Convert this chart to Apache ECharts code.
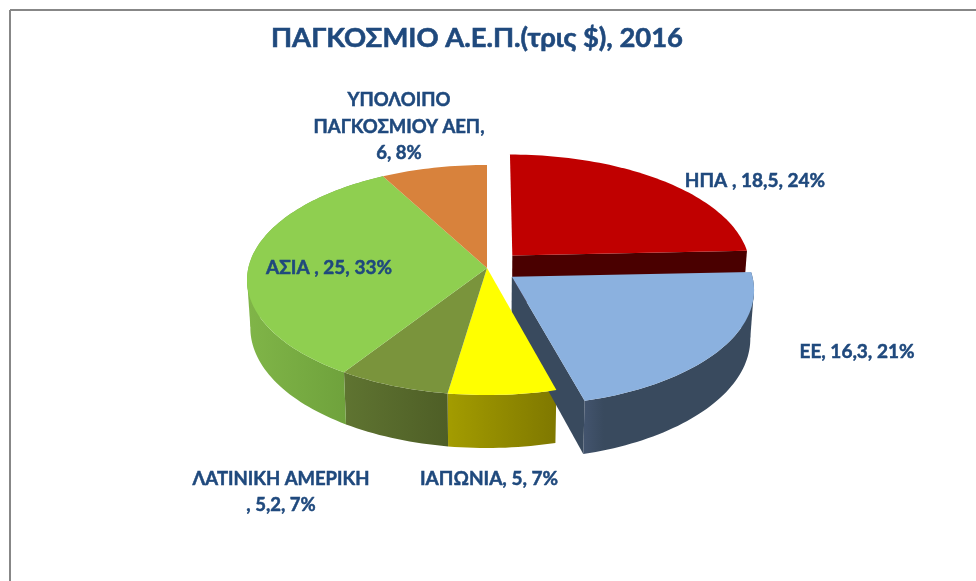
<!DOCTYPE html>
<html><head><meta charset="utf-8">
<style>html,body{margin:0;padding:0;background:#fff}#c{width:976px;height:581px}</style>
<script src="https://cdn.jsdelivr.net/npm/echarts@6/dist/echarts.min.js"></script>
</head><body><div id="c"></div>
<script>
const titleText = 'ΠΑΓΚΟΣΜΙΟ Α.Ε.Π.(τρις $), 2016';
const categories = ['ΗΠΑ ', 'ΕΕ', 'ΙΑΠΩΝΙΑ', 'ΛΑΤΙΝΙΚΗ ΑΜΕΡΙΚΗ\n', 'ΑΣΙΑ ', 'ΥΠΟΛΟΙΠΟ\nΠΑΓΚΟΣΜΙΟΥ ΑΕΠ,\n'];
const values = [18.5, 16.3, 5, 5.2, 25, 6];
const percents = [24, 21, 7, 7, 33, 8];
const valueText = ['18,5', '16,3', '5', '5,2', '25', '6'];
const separators = [', ', ', ', ', ', ', ', ', ', ''];

const topColors = ['#C00000', '#8BB1DF', '#FFFF00', '#7A943C', '#8FCF50', '#D8823C'];
const wallColors = [['#4A0000', '#4A0000'], ['#43546E', '#394A5E'], ['#A39C00', '#7F7800'], ['#5F7431', '#4E5E26'], ['#80B548', '#6FA23C'], ['#B86E30', '#B86E30']];
const wallStop = [0.5, 0.12, 1, 1, 1, 0.5];
const showRim = [false, true, true, true, true, false];
const explode = [0.155, 0.128, 0, 0, 0, 0];
const labelPos = [[755, 181], [857, 352], [489, 479], [281, 492], [329, 268], [399, 127]];
const labelSize = [19, 19, 19, 18.5, 19, 18.5];
const FONT = 'Lato, "Open Sans", "Noto Sans", sans-serif';
const TEXT = '#1F497D';

// perspective disc
const X0 = 487, Y0 = 268, A = 238.7, B = 113.8, K = 0.104, DEPTH = 47.5, SHRINK = 0.014;
const total = values.reduce((s, v) => s + v, 0);
function proj(u, v, down) {
  const w = 1 + K * v;
  let x = X0 + A * u / w, y = Y0 - B * v / w;
  if (down) { x -= (x - X0) * SHRINK; y += DEPTH / w; }
  return [x, y];
}
function slicePts(i) {
  let acc = 0;
  for (let j = 0; j < i; j++) acc += values[j];
  const a0 = acc / total * 2 * Math.PI, a1 = (acc + values[i]) / total * 2 * Math.PI;
  const mid = (a0 + a1) / 2, d = explode[i];
  const ox = d * Math.sin(mid), oy = d * Math.cos(mid);
  const n = Math.max(8, Math.round((a1 - a0) * 40));
  const rim = [];
  for (let t = 0; t <= n; t++) {
    const a = a0 + (a1 - a0) * t / n;
    rim.push([ox + Math.sin(a), oy + Math.cos(a)]);
  }
  return { rim, c: [ox, oy] };
}
function poly(points, fill, z2) {
  return { type: 'polygon', z2: z2, shape: { points }, style: { fill, stroke: null } };
}
function extreme(pts, sign) {
  return pts.reduce((best, p) => (sign * p[0] > sign * best[0] ? p : best), pts[0]);
}
function renderItem(params, api) {
  const i = api.value(0);
  const { rim, c } = slicePts(i);
  const top = rim.map(p => proj(p[0], p[1], false));
  const bot = rim.map(p => proj(p[0], p[1], true));
  const cTop = proj(c[0], c[1], false), cBot = proj(c[0], c[1], true);
  const xs = top.concat(bot).filter(p => p[1] > Y0 - 5).map(p => p[0]);
  const minX = Math.min.apply(null, xs), maxX = Math.max.apply(null, xs);
  const grad = new echarts.graphic.LinearGradient(minX, 0, maxX, 0, [
    { offset: 0, color: wallColors[i][0] },
    { offset: wallStop[i], color: wallColors[i][1] },
    { offset: 1, color: wallColors[i][1] }], true);
  const children = [];
  const n = rim.length - 1;
  if (i === 0) children.push(poly([cTop, top[n], bot[n], cBot], wallColors[i][0], 2));
  if (i === 1) children.push(poly([cTop, top[n], bot[n], cBot], wallColors[i][1], 2));
  if (showRim[i]) {
    children.push(poly(top.concat(bot.slice().reverse()), grad, 1));
    // tangent between top and bottom rim where the wall turns out of sight
    if (i === 1 || i === 4) {
      const sign = i === 1 ? 1 : -1;
      const a = extreme(top, sign), b = extreme(bot, sign);
      children.push(poly([a, b, [(a[0] + b[0]) / 2 - sign * 25, (a[1] + b[1]) / 2]], grad, 1));
    }
  }
  children.push(poly([cTop].concat(top), topColors[i], 3));
  return { type: 'group', children };
}
const labelChildren = categories.map((c, i) => ({
  type: 'text', x: labelPos[i][0], y: labelPos[i][1], z: 20,
  style: {
    text: c + separators[i] + valueText[i] + ', ' + percents[i] + '%',
    fill: TEXT, stroke: TEXT, lineWidth: 0.5,
    font: 'bold ' + labelSize[i] + 'px ' + FONT, lineHeight: 26.5, align: 'center', verticalAlign: 'middle'
  }
}));
const chart = echarts.init(document.getElementById('c'), null, { renderer: 'canvas' });
chart.setOption({
  animation: false,
  backgroundColor: '#fff',
  title: {
    text: titleText, left: 472, top: 20, textAlign: 'center',
    textStyle: { fontFamily: FONT, fontWeight: 'bold', fontSize: 27.4, color: TEXT, textBorderColor: TEXT, textBorderWidth: 0.6 }
  },
  graphic: [
    { type: 'line', shape: { x1: 10, y1: 10, x2: 976, y2: 10 }, style: { stroke: '#878787', lineWidth: 2 } },
    { type: 'line', shape: { x1: 10, y1: 10, x2: 10, y2: 581 }, style: { stroke: '#878787', lineWidth: 2 } },
    ...labelChildren
  ],
  series: [{
    type: 'custom', coordinateSystem: 'none', silent: true,
    renderItem,
    data: values.map((v, i) => ({ name: categories[i], value: [i, v] })),
    z: 5
  }]
});
</script></body></html>
